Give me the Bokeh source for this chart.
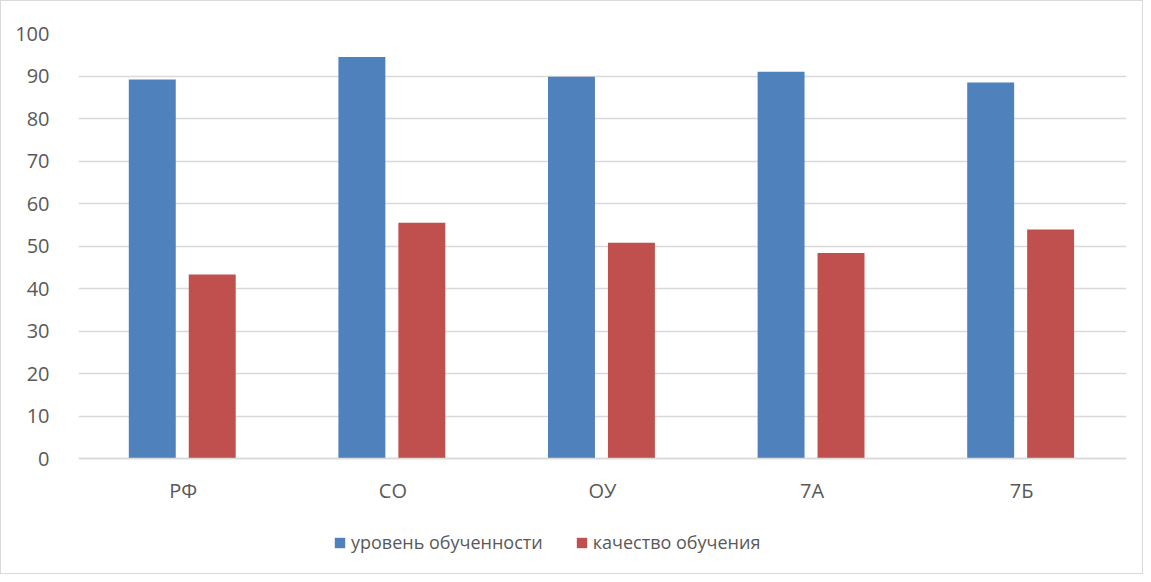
from bokeh.plotting import figure
from bokeh.models import FactorRange, ColumnDataSource, Legend, LegendItem, FixedTicker
from bokeh.transform import dodge
from bokeh.embed import file_html
from bokeh.resources import INLINE

categories = ["РФ", "СО", "ОУ", "7А", "7Б"]
level = [89.2, 94.5, 89.8, 91.0, 88.5]
quality = [43.3, 55.5, 50.8, 48.4, 53.9]
series_names = ["уровень обученности", "качество обучения"]
y_ticks = [0, 10, 20, 30, 40, 50, 60, 70, 80, 90, 100]

src = ColumnDataSource(dict(cat=categories, level=level, quality=quality))

FONT = "Open Sans"
# the frame extends below 0 so that the legend (drawn in the frame) is not clipped
p = figure(x_range=FactorRange(*categories, range_padding=0), y_range=(-25.6, 100),
           width=1143, height=574, output_backend="svg", toolbar_location=None,
           min_border_left=77, min_border_right=18, min_border_top=32, min_border_bottom=8)
p.outline_line_color = None
p.styles = {"border": "1px solid #d9d9d9", "box-sizing": "border-box"}

r1 = p.vbar(x=dodge("cat", -0.148, range=p.x_range), top="level", width=0.224, source=src,
            fill_color="#4F81BD", line_color=None)
r2 = p.vbar(x=dodge("cat", 0.138, range=p.x_range), top="quality", width=0.224, source=src,
            fill_color="#C0504D", line_color=None)

ticker = FixedTicker(ticks=y_ticks)
p.yaxis.ticker = ticker
p.ygrid.ticker = ticker
p.yaxis.axis_line_color = None
p.yaxis.major_tick_line_color = None
p.yaxis.minor_tick_line_color = None
p.yaxis.major_label_standoff = 23
p.yaxis.major_label_text_font = FONT
p.yaxis.major_label_text_font_size = "20px"
p.yaxis.major_label_text_color = "#595959"

p.xaxis.fixed_location = 0
p.xaxis.axis_line_color = "#d9d9d9"
p.xaxis.axis_line_width = 1.5
p.xaxis.major_tick_line_color = None
p.xaxis.minor_tick_line_color = None
p.xaxis.major_label_standoff = 12
p.xaxis.major_label_text_font = FONT
p.xaxis.major_label_text_font_size = "20px"
p.xaxis.major_label_text_color = "#595959"

p.xgrid.grid_line_color = None
p.ygrid.grid_line_color = "#d9d9d9"
p.ygrid.grid_line_width = 1.5

legend = Legend(items=[LegendItem(label=series_names[0], renderers=[r1]),
                       LegendItem(label=series_names[1], renderers=[r2])],
                orientation="horizontal", location=(255, 13),
                label_text_font=FONT, label_text_font_size="18px", label_text_color="#595959",
                glyph_width=13, glyph_height=13, spacing=32, label_standoff=5, label_height=20,
                border_line_color=None, background_fill_alpha=0, margin=0, padding=0)
p.add_layout(legend, "center")

open("out.html", "w").write(file_html(p, INLINE))
